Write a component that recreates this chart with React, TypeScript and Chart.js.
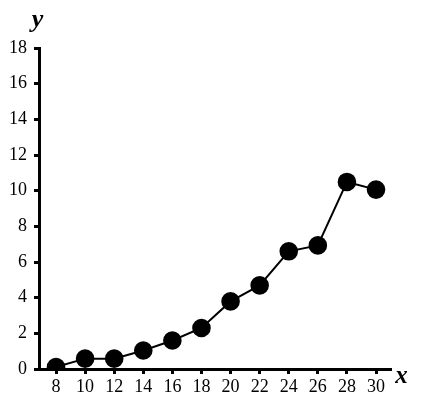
import React, { useEffect, useRef } from "react";
import { Chart, registerables } from "chart.js";

Chart.register(...registerables);

const X_VALUES = [8, 10, 12, 14, 16, 18, 20, 22, 24, 26, 28, 30];
const Y_VALUES = [0.11, 0.58, 0.58, 1.04, 1.6, 2.3, 3.79, 4.69, 6.6, 6.93, 10.49, 10.06];
const X_TICKS = [8, 10, 12, 14, 16, 18, 20, 22, 24, 26, 28, 30];
const Y_TICKS = [0, 2, 4, 6, 8, 10, 12, 14, 16, 18];
const X_LABEL = "x";
const Y_LABEL = "y";

const axisLabels = {
  id: "axisLabels",
  afterDraw(chart: any) {
    const { ctx, chartArea } = chart;
    ctx.save();
    ctx.fillStyle = "#000";
    ctx.textAlign = "center";
    ctx.textBaseline = "alphabetic";
    ctx.font = "italic bold 26px 'Liberation Serif'";
    ctx.fillText(Y_LABEL, chartArea.left - 1.5, chartArea.top - 21);
    ctx.font = "italic bold 25px 'Liberation Serif'";
    ctx.fillText(X_LABEL, chartArea.right + 10.5, chartArea.bottom + 14);
    ctx.restore();
  },
};

export default function App() {
  const ref = useRef<HTMLCanvasElement>(null);
  useEffect(() => {
    if (!ref.current) return;
    const chart = new Chart(ref.current, {
      type: "line",
      data: {
        datasets: [
          {
            data: X_VALUES.map((x, i) => ({ x, y: Y_VALUES[i] })),
            borderColor: "#000",
            borderWidth: 2,
            backgroundColor: "#000",
            pointBackgroundColor: "#000",
            pointBorderColor: "#000",
            pointRadius: 8.3,
            tension: 0,
          },
        ],
      },
      options: {
        animation: false,
        responsive: false,
        maintainAspectRatio: false,
        layout: { padding: { left: 0, top: 48, right: 30, bottom: 0 } },
        plugins: { legend: { display: false }, tooltip: { enabled: false } },
        scales: {
          x: {
            type: "linear",
            min: 6.83,
            max: 31.03,
            afterBuildTicks: (s: any) => {
              s.ticks = X_TICKS.map((v) => ({ value: v }));
            },
            afterFit: (s: any) => {
              s.height = 33;
            },
            grid: {
              display: true,
              drawOnChartArea: false,
              drawTicks: true,
              tickLength: 5,
              tickWidth: 3,
              color: "#000",
            },
            border: { display: true, width: 3, color: "#000" },
            ticks: {
              color: "#000",
              padding: 2,
              maxRotation: 0,
              autoSkip: false,
              font: { family: "'Liberation Serif'", size: 18 },
            },
          },
          y: {
            type: "linear",
            min: 0,
            max: 18,
            afterBuildTicks: (s: any) => {
              s.ticks = Y_TICKS.map((v) => ({ value: v }));
            },
            afterFit: (s: any) => {
              s.width = 39;
            },
            grid: {
              display: true,
              drawOnChartArea: false,
              drawTicks: true,
              tickLength: 5,
              tickWidth: 3,
              color: "#000",
            },
            border: { display: true, width: 3, color: "#000" },
            ticks: {
              color: "#000",
              padding: 7,
              autoSkip: false,
              font: { family: "'Liberation Serif'", size: 18 },
            },
          },
        },
      },
      plugins: [axisLabels],
    });
    return () => chart.destroy();
  }, []);
  return (
    <div style={{ position: "absolute", left: 0, top: 0, width: 421, height: 402, background: "#fff" }}>
      <canvas ref={ref} width={421} height={402} style={{ width: 421, height: 402 }} />
    </div>
  );
}
